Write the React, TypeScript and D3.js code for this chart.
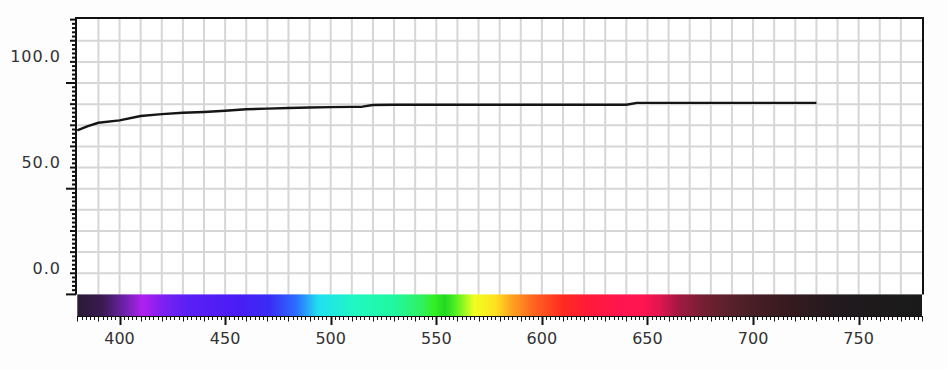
import React from "react";
import * as d3 from "d3";

const wavelengths = [380, 385, 390, 400, 410, 420, 430, 440, 450, 460, 470, 480, 490, 500, 510, 515, 520, 530, 540, 550, 560, 570, 580, 590, 600, 610, 620, 630, 640, 645, 650, 660, 670, 680, 690, 700, 710, 720, 730];
const values = [67.6, 69.6, 71.2, 72.3, 74.4, 75.3, 75.9, 76.3, 76.9, 77.6, 77.9, 78.2, 78.4, 78.6, 78.7, 78.8, 79.6, 79.7, 79.7, 79.7, 79.7, 79.7, 79.7, 79.7, 79.7, 79.7, 79.7, 79.7, 79.7, 80.6, 80.6, 80.6, 80.6, 80.6, 80.6, 80.6, 80.6, 80.6, 80.6];

// colour strip under the plot
const spectrumNm = [380, 392, 402, 411, 421, 432, 456, 471, 484, 494, 512, 530, 543, 549, 554, 559, 568, 578, 586, 597, 610, 622, 638, 647, 656, 665, 678, 694, 713, 741, 780];
const spectrumColors = ["#2a1a35", "#3a1a52", "#6a22a8", "#b020f0", "#7a20f2", "#5a20f5", "#4a1cf5", "#3a2cf5", "#2a70ff", "#20e0f0", "#20f8c0", "#20f8a0", "#30f060", "#34f020", "#22d822", "#50f020", "#f0ff20", "#ffe020", "#ffa020", "#ff6020", "#ff2a20", "#ff1a3a", "#ff1550", "#ff1550", "#e01550", "#a01a40", "#702030", "#502028", "#3a1a20", "#201a1e", "#1a1a1a"];

const xTickLabels = [400, 450, 500, 550, 600, 650, 700, 750];
const yTickLabels = [0, 50, 100];

const width = 948;
const height = 369;

function drawChart(svg: d3.Selection<SVGSVGElement, unknown, null, undefined>) {
  svg.selectAll("*").remove();

  const x = d3.scaleLinear().domain([380, 780]).range([77.3, 922]);
  const y = d3.scaleLinear().domain([-10, 120]).range([294.4, 19.6]);

  const plotTop = 18;
  const plotBottom = y(-10);
  const barBottom = 316;

  svg.append("rect")
    .attr("x", x(380)).attr("y", plotTop)
    .attr("width", x(780) - x(380)).attr("height", plotBottom - plotTop)
    .attr("fill", "#fff");

  // grid
  const grid = svg.append("g").attr("stroke", "#d6d6d6").attr("stroke-width", 2);
  grid.selectAll("line.v")
    .data(d3.range(390, 780, 10))
    .join("line")
    .attr("x1", (d) => x(d)).attr("x2", (d) => x(d))
    .attr("y1", plotTop).attr("y2", plotBottom);
  grid.selectAll("line.h")
    .data(d3.range(0, 120, 10))
    .join("line")
    .attr("x1", x(380)).attr("x2", x(780))
    .attr("y1", (d) => y(d)).attr("y2", (d) => y(d));

  // spectrum strip
  const grad = svg.append("defs").append("linearGradient").attr("id", "spectrum");
  grad.selectAll("stop")
    .data(spectrumNm)
    .join("stop")
    .attr("offset", (d) => (d - 380) / 400)
    .attr("stop-color", (d, i) => spectrumColors[i]);
  svg.append("rect")
    .attr("x", x(380)).attr("y", plotBottom)
    .attr("width", x(780) - x(380)).attr("height", barBottom - plotBottom)
    .attr("fill", "url(#spectrum)");

  // data line
  const pts = wavelengths.map((w, i) => [w, values[i]] as [number, number]);
  const line = d3.line<[number, number]>().x((d) => x(d[0])).y((d) => y(d[1]));
  svg.append("path")
    .datum(pts)
    .attr("fill", "none")
    .attr("stroke", "#151515")
    .attr("stroke-width", 2.4)
    .attr("stroke-linejoin", "round")
    .attr("d", line);

  // frame
  svg.append("path")
    .attr("d", `M76,${plotBottom}V${plotTop}H923V${plotBottom}`)
    .attr("fill", "none")
    .attr("stroke", "#111")
    .attr("stroke-width", 2);

  // x ticks under the strip
  const xt = svg.append("g").attr("stroke", "#111").attr("stroke-width", 1);
  xt.append("line").attr("x1", x(380)).attr("x2", x(780)).attr("y1", barBottom + 0.5).attr("y2", barBottom + 0.5);
  xt.selectAll("line.t")
    .data(d3.range(380, 781, 2))
    .join("line")
    .attr("x1", (d) => Math.round(x(d)) + 0.5).attr("x2", (d) => Math.round(x(d)) + 0.5)
    .attr("y1", barBottom)
    .attr("y2", (d) => barBottom + (d % 50 === 0 ? 9 : d % 10 === 0 ? 5.5 : 4))
    .attr("stroke-width", (d) => (d % 50 === 0 ? 2 : 1));

  svg.append("g")
    .selectAll("text")
    .data(xTickLabels)
    .join("text")
    .attr("x", (d) => x(d))
    .attr("y", 344)
    .attr("text-anchor", "middle")
    .attr("font-family", "DejaVu Sans")
    .attr("font-size", 16)
    .attr("fill", "#333")
    .text((d) => d);

  // y ticks on the left
  const yt = svg.append("g").attr("stroke", "#111").attr("stroke-width", 2);
  yt.selectAll("line")
    .data(d3.range(-10, 121, 2))
    .join("line")
    .attr("x1", (d) => ((d + 10) % 50 === 0 ? 66 : d % 10 === 0 ? 70 : 72))
    .attr("x2", 76)
    .attr("y1", (d) => y(d)).attr("y2", (d) => y(d));

  svg.append("g")
    .selectAll("text")
    .data(yTickLabels)
    .join("text")
    .attr("x", 61)
    .attr("y", (d) => y(d) + 0.5)
    .attr("text-anchor", "end")
    .attr("font-family", "DejaVu Sans")
    .attr("font-size", 16)
    .attr("letter-spacing", 1)
    .attr("fill", "#333")
    .text((d) => d3.format(".1f")(d));

  return svg.node();
}

function SpectrumChart() {
  const ref = React.useRef<SVGSVGElement>(null);
  React.useEffect(() => {
    if (ref.current) drawChart(d3.select(ref.current));
  }, []);

  return (
    <svg
      ref={ref}
      width={width}
      height={height}
      style={{ position: "absolute", left: 0, top: 0, background: "#fdfdfd" }}
    />
  );
}

export default function App() {
  return <SpectrumChart />;
}
